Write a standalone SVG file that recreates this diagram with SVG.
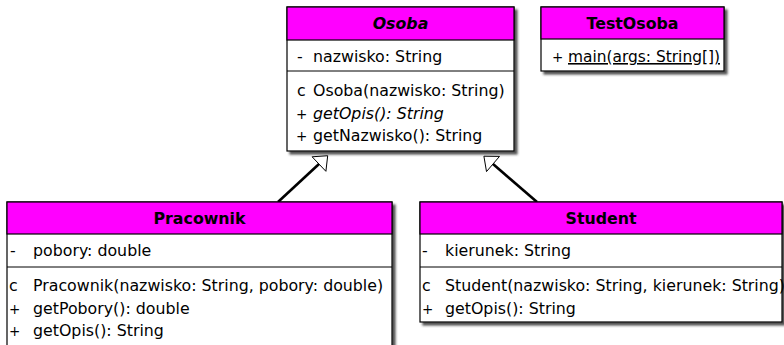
<svg xmlns="http://www.w3.org/2000/svg" width="784" height="345" viewBox="0 0 784 345">
  <defs>
    <filter id="shadow" x="-5%" y="-5%" width="115%" height="115%">
      <feDropShadow dx="3" dy="3" stdDeviation="1" flood-color="#333" flood-opacity="0.85"/>
    </filter>
  </defs>
  <style>
    .box { fill: #ffffff; stroke: #000000; stroke-width: 1.2; }
    .head { fill: #ff00ff; stroke: #000000; stroke-width: 1.2; }
    .sep { stroke: #000000; stroke-width: 1; }
    text { font-family: "DejaVu Sans", "Liberation Sans", sans-serif; font-size: 15.8px; fill: #000000; }
    .title { font-weight: bold; text-anchor: middle; }
    .abstract { font-style: italic; }
    .static { text-decoration: underline; }
    .vis { font-size: 13.5px; }
    .edge { stroke: #000000; stroke-width: 2.6; fill: none; }
    .gen { fill: #ffffff; stroke: #000000; stroke-width: 1; stroke-linejoin: miter; }
  </style>

  <!-- inheritance connectors -->
  <g id="connectors">
    <line class="edge" x1="278" y1="202" x2="319" y2="164"/>
    <polygon class="gen" points="327.7,155.7 312.1,156.8 325.9,171.3"/>
    <line class="edge" x1="537" y1="202" x2="493" y2="164"/>
    <polygon class="gen" points="483.9,156.2 499.5,156.4 486.5,171.6"/>
  </g>

  <!-- abstract base class -->
  <g id="Osoba">
    <rect class="box" x="287" y="7" width="227" height="144" filter="url(#shadow)"/>
    <rect class="head" x="287" y="7" width="227" height="33"/>
    <line class="sep" x1="287" y1="71" x2="514" y2="71"/>
    <text class="title abstract" x="400.5" y="29">Osoba</text>
    <text x="297" y="62">-</text><text x="313" y="62">nazwisko: String</text>
    <text x="297" y="96">c</text><text x="313" y="96">Osoba(nazwisko: String)</text>
    <text class="vis" x="296" y="118.5">+</text><text class="abstract" x="313" y="118.5">getOpis(): String</text>
    <text class="vis" x="296" y="141">+</text><text x="313" y="141">getNazwisko(): String</text>
  </g>

  <g id="TestOsoba">
    <rect class="box" x="541" y="7" width="183" height="64" filter="url(#shadow)"/>
    <rect class="head" x="541" y="7" width="183" height="32"/>
    <text class="title" x="632.5" y="29">TestOsoba</text>
    <text class="vis" x="552" y="62">+</text><text class="static" x="568" y="62" textLength="152" lengthAdjust="spacingAndGlyphs">main(args: String[])</text>
  </g>

  <g id="Pracownik">
    <rect class="box" x="7" y="202" width="385" height="150" filter="url(#shadow)"/>
    <rect class="head" x="7" y="202" width="385" height="32"/>
    <line class="sep" x1="7" y1="267" x2="392" y2="267"/>
    <text class="title" x="199.5" y="224">Pracownik</text>
    <text x="10" y="256">-</text><text x="33" y="256">pobory: double</text>
    <text x="9" y="291">c</text><text x="33" y="291">Pracownik(nazwisko: String, pobory: double)</text>
    <text class="vis" x="9" y="313.5">+</text><text x="33" y="313.5">getPobory(): double</text>
    <text class="vis" x="9" y="336">+</text><text x="33" y="336">getOpis(): String</text>
  </g>

  <g id="Student">
    <rect class="box" x="420" y="202" width="362" height="120" filter="url(#shadow)"/>
    <rect class="head" x="420" y="202" width="362" height="32"/>
    <line class="sep" x1="420" y1="267" x2="782" y2="267"/>
    <text class="title" x="601" y="224">Student</text>
    <text x="422" y="256">-</text><text x="445" y="256">kierunek: String</text>
    <text x="422" y="291">c</text><text x="445" y="291">Student(nazwisko: String, kierunek: String)</text>
    <text class="vis" x="422" y="313.5">+</text><text x="445" y="313.5">getOpis(): String</text>
  </g>
</svg>
